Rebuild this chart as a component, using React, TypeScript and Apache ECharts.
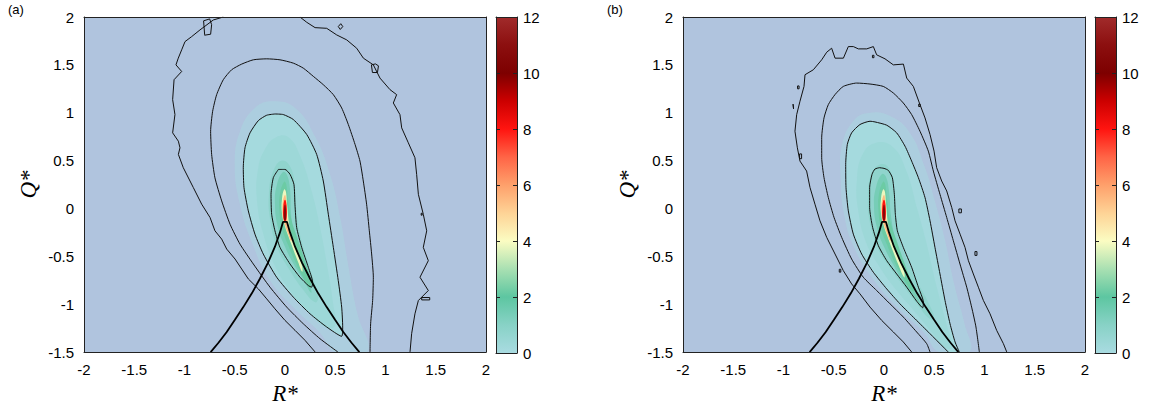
import React, { useEffect, useRef } from "react";
import * as echarts from "echarts";

// ---------- colour scale (0..12) ----------
const CB_MIN = 0;
const CB_MAX = 12;
const CB_COLORS = ["#a9dbe1", "#88d2c6", "#5dc6a1", "#a9e0b2", "#fbfcc2", "#fed396", "#fea06b", "#ff6446", "#ff1410", "#cc0000", "#7d0000", "#8c0f0f", "#a12b2b"];

// ---------- Vieillefosse line (same for both panels) ----------
const VL_R = [-0.74, -0.66, -0.58, -0.5, -0.415, -0.33, -0.25, -0.17, -0.1, -0.05, -0.02, 0.02, 0.05, 0.1, 0.17, 0.25, 0.33, 0.415, 0.5, 0.58, 0.66, 0.74];
const VL_Q = [-1.5, -1.4, -1.29, -1.165, -1.03, -0.886, -0.734, -0.569, -0.399, -0.25, -0.14, -0.14, -0.25, -0.399, -0.569, -0.734, -0.886, -1.03, -1.165, -1.29, -1.4, -1.5];

// ---------- panel (a) contours ----------
const A_C1_R = [-0.066, -0.116, -0.139, -0.133, -0.1, -0.05, 0.05, 0.149, 0.232, 0.265, 0.275, 0.232, 0.166, 0.116, 0.099, 0.089, 0.05, 0.0, -0.066];
const A_C1_Q = [0.408, 0.322, 0.148, -0.06, -0.233, -0.406, -0.58, -0.718, -0.805, -0.822, -0.77, -0.614, -0.406, -0.198, 0.045, 0.252, 0.357, 0.408, 0.408];
const A_C2_R = [-0.1, -0.182, -0.265, -0.348, -0.398, -0.415, -0.408, -0.365, -0.299, -0.216, -0.083, 0.083, 0.249, 0.415, 0.564, 0.574, 0.564, 0.53, 0.481, 0.431, 0.381, 0.315, 0.216, 0.083, -0.017, -0.1];
const A_C2_Q = [0.987, 0.974, 0.918, 0.79, 0.634, 0.426, 0.218, -0.025, -0.268, -0.476, -0.718, -0.926, -1.1, -1.238, -1.335, -1.238, -1.03, -0.753, -0.406, -0.06, 0.287, 0.565, 0.773, 0.929, 0.981, 0.987];
const A_C3_R = [0.527, 0.348, 0.182, 0.017, -0.149, -0.315, -0.448, -0.547, -0.63, -0.697, -0.73, -0.74, -0.72, -0.68, -0.614, -0.531, -0.431, -0.315, -0.182, -0.05, 0.083, 0.182, 0.282, 0.381, 0.481, 0.564, 0.63, 0.697, 0.746, 0.779, 0.812, 0.839, 0.862, 0.879, 0.872, 0.852, 0.846];
const A_C3_Q = [-1.5, -1.36, -1.204, -1.03, -0.822, -0.58, -0.372, -0.164, 0.079, 0.32, 0.565, 0.807, 1.015, 1.189, 1.345, 1.449, 1.508, 1.553, 1.563, 1.553, 1.518, 1.466, 1.38, 1.293, 1.189, 1.05, 0.877, 0.669, 0.495, 0.287, 0.045, -0.233, -0.475, -0.718, -0.961, -1.204, -1.5];
const A_C4L_R = [-0.614, -0.713, -0.846, -0.929, -0.995, -1.028, -1.062, -1.085, -1.028, -1.104, -1.118, -1.095, -1.118, -1.061, -1.045, -1.061, -1.012, -0.912, -0.829, -0.746, -0.697, -0.63, -0.58, -0.497, -0.431, -0.365, -0.265, -0.182, -0.1, 0.0, 0.1, 0.199, 0.299];
const A_C4L_Q = [2.0, 1.969, 1.865, 1.795, 1.743, 1.657, 1.57, 1.5, 1.431, 1.345, 1.137, 0.981, 0.79, 0.703, 0.634, 0.565, 0.426, 0.218, 0.045, -0.094, -0.233, -0.32, -0.424, -0.528, -0.632, -0.736, -0.84, -0.944, -1.048, -1.169, -1.273, -1.377, -1.498];
const A_C4R_R = [0.149, 0.216, 0.299, 0.415, 0.514, 0.614, 0.713, 0.78, 0.879, 0.945, 1.045, 1.111, 1.078, 1.144, 1.161, 1.227, 1.293, 1.31, 1.327, 1.376, 1.41, 1.376, 1.426, 1.343, 1.426, 1.327, 1.293, 1.26, 1.244];
const A_C4R_Q = [2.0, 1.945, 1.889, 1.882, 1.813, 1.761, 1.674, 1.57, 1.5, 1.362, 1.241, 1.189, 1.102, 0.98, 0.842, 0.686, 0.53, 0.356, 0.148, -0.06, -0.233, -0.406, -0.545, -0.718, -0.857, -0.961, -1.1, -1.308, -1.498];
const A_ISLANDS = [
  { r: [-0.8, -0.81, -0.75, -0.73, -0.74, -0.8, -0.8], q: [1.82, 1.96, 1.98, 1.92, 1.82, 1.81, 1.82] },
  { r: [0.53, 0.555, 0.575, 0.55, 0.53], q: [1.9, 1.93, 1.9, 1.87, 1.9] },
  { r: [0.86, 0.9, 0.93, 0.92, 0.87, 0.86], q: [1.5, 1.51, 1.49, 1.42, 1.42, 1.5] },
  { r: [1.355, 1.365, 1.365, 1.355, 1.355], q: [-0.05, -0.05, -0.07, -0.07, -0.05] },
  { r: [1.36, 1.44, 1.44, 1.36, 1.36], q: [-0.93, -0.93, -0.955, -0.955, -0.93] },
];

// ---------- panel (b) contours ----------
const B_C1_R = [-0.046, -0.09, -0.119, -0.143, -0.143, -0.113, -0.056, 0.027, 0.126, 0.226, 0.325, 0.385, 0.392, 0.342, 0.275, 0.192, 0.133, 0.113, 0.103, 0.083, 0.043, 0.0, -0.046];
const B_C1_Q = [0.426, 0.412, 0.357, 0.218, 0.01, -0.198, -0.389, -0.545, -0.684, -0.822, -0.968, -1.037, -0.978, -0.822, -0.614, -0.406, -0.233, -0.06, 0.148, 0.322, 0.398, 0.419, 0.426];
const B_C2_R = [0.64, 0.59, 0.458, 0.308, 0.159, 0.027, -0.106, -0.222, -0.305, -0.355, -0.378, -0.381, -0.365, -0.322, -0.239, -0.139, -0.09, 0.027, 0.126, 0.209, 0.275, 0.342, 0.408, 0.458, 0.507, 0.557, 0.607, 0.657, 0.707, 0.75];
const B_C2_Q = [-1.5, -1.447, -1.308, -1.152, -0.996, -0.84, -0.666, -0.476, -0.268, -0.025, 0.218, 0.461, 0.669, 0.79, 0.877, 0.911, 0.904, 0.87, 0.79, 0.651, 0.495, 0.322, 0.114, -0.129, -0.406, -0.684, -0.961, -1.204, -1.394, -1.5];
const B_C3_R = [0.458, 0.425, 0.325, 0.192, 0.06, -0.073, -0.206, -0.322, -0.421, -0.497, -0.554, -0.597, -0.62, -0.62, -0.597, -0.554, -0.488, -0.405, -0.272, -0.139, -0.007, 0.093, 0.192, 0.275, 0.358, 0.441, 0.491, 0.557, 0.624, 0.69, 0.756, 0.823, 0.872, 0.915, 0.949];
const B_C3_Q = [-1.5, -1.412, -1.29, -1.134, -0.996, -0.857, -0.718, -0.528, -0.302, -0.094, 0.114, 0.322, 0.53, 0.738, 0.946, 1.085, 1.189, 1.275, 1.31, 1.3, 1.275, 1.206, 1.102, 0.981, 0.807, 0.599, 0.391, 0.148, -0.094, -0.337, -0.58, -0.822, -1.03, -1.238, -1.5];
const B_C4_R = [0.275, 0.192, 0.093, -0.023, -0.139, -0.239, -0.322, -0.405, -0.487, -0.57, -0.637, -0.687, -0.736, -0.77, -0.836, -0.862, -0.886, -0.869, -0.836, -0.796, -0.786, -0.703, -0.62, -0.57, -0.521, -0.487, -0.404, -0.355, -0.305, -0.255, -0.172, -0.106, -0.073, 0.01, 0.093, 0.193, 0.226, 0.292, 0.352, 0.408, 0.458, 0.498, 0.524, 0.574, 0.624, 0.674, 0.707, 0.757, 0.806, 0.84, 0.889, 0.939, 0.989, 1.055, 1.121, 1.188, 1.221];
const B_C4_Q = [-1.498, -1.394, -1.29, -1.169, -1.03, -0.892, -0.788, -0.649, -0.476, -0.302, -0.129, 0.045, 0.218, 0.391, 0.495, 0.634, 0.807, 0.98, 1.12, 1.275, 1.397, 1.449, 1.553, 1.632, 1.674, 1.57, 1.57, 1.691, 1.691, 1.667, 1.667, 1.691, 1.605, 1.563, 1.5, 1.508, 1.362, 1.275, 1.102, 0.946, 0.773, 0.599, 0.426, 0.287, 0.183, 0.01, -0.129, -0.268, -0.406, -0.545, -0.684, -0.822, -0.961, -1.1, -1.273, -1.412, -1.498];
const B_ISLANDS = [
  { r: [-0.86, -0.845, -0.845, -0.86, -0.86], q: [1.28, 1.28, 1.25, 1.25, 1.28] },
  { r: [-0.115, -0.1, -0.1, -0.115, -0.115], q: [1.6, 1.6, 1.575, 1.575, 1.6] },
  { r: [0.345, 0.36, 0.36, 0.345, 0.345], q: [1.09, 1.09, 1.065, 1.065, 1.09] },
  { r: [-0.905, -0.9, -0.9, -0.905, -0.905], q: [1.09, 1.09, 1.04, 1.04, 1.09] },
  { r: [-0.84, -0.82, -0.82, -0.84, -0.84], q: [0.57, 0.57, 0.52, 0.52, 0.57] },
  { r: [-0.445, -0.43, -0.43, -0.445, -0.445], q: [-0.635, -0.635, -0.665, -0.665, -0.635] },
  { r: [0.745, 0.77, 0.77, 0.745, 0.745], q: [-0.005, -0.005, -0.045, -0.045, -0.005] },
  { r: [0.905, 0.925, 0.925, 0.905, 0.905], q: [-0.45, -0.45, -0.49, -0.49, -0.45] },
];

// ---------- density fill levels (value, outline) ----------
const FILL_A_VALUES = [0, 0.12, 0.35, 0.75, 1.4, 2.2, 3.8, 5.5, 8.0, 10.5];
const FILL_A_R = [
  [-0.12, -0.3, -0.45, -0.5, -0.45, -0.33, -0.15, 0.1, 0.35, 0.5, 0.82, 0.72, 0.63, 0.55, 0.45, 0.3, 0.1],
  A_C2_R,
  [-0.08, -0.2, -0.27, -0.28, -0.22, -0.1, 0.08, 0.25, 0.42, 0.5, 0.48, 0.42, 0.35, 0.26, 0.15, 0.04],
  [-0.03, -0.12, -0.16, -0.15, -0.08, 0.05, 0.18, 0.3, 0.33, 0.27, 0.18, 0.12, 0.1, 0.06],
  [-0.02, -0.08, -0.1, -0.07, 0.0, 0.08, 0.17, 0.26, 0.24, 0.16, 0.09, 0.06, 0.05, 0.02],
  [-0.01, -0.05, -0.055, -0.03, 0.03, 0.1, 0.17, 0.24, 0.26, 0.2, 0.12, 0.06, 0.03, 0.01],
  [-0.008, -0.03, -0.03, -0.005, 0.03, 0.08, 0.13, 0.17, 0.17, 0.1, 0.05, 0.02, 0.008],
  [0.0, -0.022, -0.022, 0.0, 0.03, 0.06, 0.07, 0.035, 0.015, 0.012],
  [0.0, -0.016, -0.016, 0.0, 0.016, 0.016],
  [0.0, -0.009, -0.009, 0.009, 0.009],
];
const FILL_A_Q = [
  [1.12, 1.05, 0.8, 0.45, 0.05, -0.35, -0.75, -1.05, -1.3, -1.5, -1.5, -1.1, -0.6, -0.1, 0.35, 0.75, 1.05],
  A_C2_Q,
  [0.75, 0.62, 0.4, 0.1, -0.25, -0.6, -0.9, -1.1, -1.25, -1.22, -1.0, -0.6, -0.2, 0.2, 0.55, 0.74],
  [0.5, 0.38, 0.15, -0.1, -0.4, -0.65, -0.85, -0.98, -0.92, -0.7, -0.4, -0.1, 0.2, 0.42],
  [0.38, 0.25, 0.05, -0.2, -0.4, -0.57, -0.72, -0.88, -0.76, -0.5, -0.3, -0.05, 0.2, 0.35],
  [0.28, 0.15, -0.02, -0.2, -0.38, -0.55, -0.7, -0.82, -0.78, -0.55, -0.3, -0.1, 0.1, 0.26],
  [0.2, 0.1, -0.05, -0.17, -0.28, -0.42, -0.56, -0.66, -0.6, -0.4, -0.22, 0.05, 0.18],
  [0.14, 0.06, -0.08, -0.17, -0.26, -0.34, -0.32, -0.18, -0.05, 0.08],
  [0.09, 0.03, -0.1, -0.14, -0.1, 0.03],
  [0.04, 0.0, -0.12, -0.12, 0.0],
];
const FILL_B_VALUES = [0, 0.12, 0.35, 0.75, 1.4, 2.2, 3.8, 5.5, 8.0, 10.5];
const FILL_B_R = [
  [-0.14, -0.3, -0.42, -0.43, -0.4, -0.3, -0.1, 0.15, 0.4, 0.55, 0.85, 0.8, 0.7, 0.6, 0.5, 0.4, 0.25, 0.05],
  B_C2_R,
  [-0.1, -0.22, -0.27, -0.26, -0.18, -0.05, 0.12, 0.3, 0.48, 0.6, 0.68, 0.62, 0.52, 0.42, 0.33, 0.22, 0.08],
  [-0.04, -0.13, -0.16, -0.14, -0.06, 0.06, 0.2, 0.33, 0.45, 0.5, 0.44, 0.3, 0.18, 0.12, 0.1, 0.05],
  [-0.02, -0.08, -0.1, -0.07, 0.0, 0.1, 0.2, 0.3, 0.37, 0.31, 0.2, 0.12, 0.07, 0.05, 0.02],
  [-0.01, -0.05, -0.055, -0.03, 0.03, 0.1, 0.18, 0.26, 0.3, 0.22, 0.12, 0.06, 0.03, 0.01],
  [-0.008, -0.03, -0.03, -0.005, 0.03, 0.08, 0.14, 0.2, 0.2, 0.11, 0.05, 0.02, 0.008],
  [0.0, -0.022, -0.022, 0.0, 0.03, 0.06, 0.07, 0.035, 0.015, 0.012],
  [0.0, -0.016, -0.016, 0.0, 0.016, 0.016],
  [0.0, -0.009, -0.009, 0.009, 0.009],
];
const FILL_B_Q = [
  [1.0, 0.92, 0.65, 0.3, -0.05, -0.4, -0.75, -1.05, -1.3, -1.5, -1.5, -1.2, -0.8, -0.3, 0.1, 0.45, 0.8, 0.97],
  B_C2_Q,
  [0.68, 0.55, 0.3, 0.0, -0.35, -0.6, -0.85, -1.07, -1.3, -1.45, -1.45, -1.2, -0.8, -0.35, 0.0, 0.4, 0.65],
  [0.46, 0.35, 0.1, -0.15, -0.42, -0.62, -0.82, -1.0, -1.15, -1.15, -0.98, -0.7, -0.4, -0.1, 0.2, 0.42],
  [0.36, 0.22, 0.03, -0.2, -0.4, -0.6, -0.78, -0.92, -1.02, -0.87, -0.62, -0.35, -0.08, 0.18, 0.33],
  [0.28, 0.15, -0.02, -0.2, -0.38, -0.55, -0.7, -0.84, -0.86, -0.62, -0.32, -0.12, 0.1, 0.26],
  [0.2, 0.1, -0.05, -0.17, -0.28, -0.42, -0.58, -0.72, -0.66, -0.42, -0.22, 0.05, 0.18],
  [0.14, 0.06, -0.08, -0.17, -0.26, -0.34, -0.32, -0.18, -0.05, 0.08],
  [0.09, 0.03, -0.1, -0.14, -0.1, 0.03],
  [0.04, 0.0, -0.12, -0.12, 0.0],
];

const PANEL_LABELS = ["(a)", "(b)"];
const X_NAME = "R*";
const Y_NAME = "Q*";

// ---------- helpers ----------
const pairs = (r: number[], q: number[]) => r.map((x, i) => [x, q[i]]);
const SANS = "'Liberation Sans', Arial, Helvetica, sans-serif";
const SERIF = "'Liberation Serif', 'Times New Roman', serif";
const INK = "#000";

function buildOption() {
  const panels = [
    { left: 84, cbLeft: 496, fillV: FILL_A_VALUES, fillR: FILL_A_R, fillQ: FILL_A_Q,
      smoothC: [pairs(A_C1_R, A_C1_Q), pairs(A_C2_R, A_C2_Q), pairs(A_C3_R, A_C3_Q)],
      rough: [pairs(A_C4L_R, A_C4L_Q), pairs(A_C4R_R, A_C4R_Q), ...A_ISLANDS.map((d) => pairs(d.r, d.q))] },
    { left: 683, cbLeft: 1095, fillV: FILL_B_VALUES, fillR: FILL_B_R, fillQ: FILL_B_Q,
      smoothC: [pairs(B_C1_R, B_C1_Q), pairs(B_C2_R, B_C2_Q), pairs(B_C3_R, B_C3_Q)],
      rough: [pairs(B_C4_R, B_C4_Q), ...B_ISLANDS.map((d) => pairs(d.r, d.q))] },
  ];
  const top = 17, height = 336, width = 402, cbWidth = 21;
  const grid: any[] = [], xAxis: any[] = [], yAxis: any[] = [], series: any[] = [];
  const fillIdx: number[] = [];
  const border = { show: true, onZero: false, lineStyle: { color: "#222", width: 1 } };
  const label = { fontSize: 15, color: INK, fontFamily: SANS, margin: 10 };
  const stops = CB_COLORS.map((c, i) => ({ offset: i / (CB_COLORS.length - 1), color: c }));

  panels.forEach((p, k) => {
    const g = k * 2;
    grid.push({ left: p.left, top, width, height, show: true, backgroundColor: "#b0c4de", borderWidth: 0 });
    grid.push({ left: p.cbLeft, top, width: cbWidth, height, show: false });
    const ax = xAxis.length, ay = yAxis.length;
    xAxis.push(
      { gridIndex: g, type: "value", min: -2, max: 2, interval: 0.5, position: "bottom", z: 10,
        axisLine: border, axisTick: { show: false }, splitLine: { show: false }, axisLabel: label,
        name: X_NAME, nameLocation: "middle", nameGap: 27,
        nameTextStyle: { fontFamily: SERIF, fontStyle: "italic", fontSize: 23, color: INK } },
      { gridIndex: g, type: "value", min: -2, max: 2, position: "top", z: 10, axisLine: border,
        axisTick: { show: false }, splitLine: { show: false }, axisLabel: { show: false } },
      { gridIndex: g + 1, type: "value", min: 0, max: 1, position: "bottom", z: 10, axisLine: border,
        axisTick: { show: false }, splitLine: { show: false }, axisLabel: { show: false } },
      { gridIndex: g + 1, type: "value", min: 0, max: 1, position: "top", z: 10, axisLine: border,
        axisTick: { show: false }, splitLine: { show: false }, axisLabel: { show: false } },
    );
    yAxis.push(
      { gridIndex: g, type: "value", min: -1.5, max: 2, interval: 0.5, position: "left", z: 10,
        axisLine: border, axisTick: { show: false }, splitLine: { show: false }, axisLabel: label,
        name: Y_NAME, nameLocation: "middle", nameGap: 44,
        nameTextStyle: { fontFamily: SERIF, fontStyle: "italic", fontSize: 23, color: INK } },
      { gridIndex: g, type: "value", min: -1.5, max: 2, position: "right", z: 10, axisLine: border,
        axisTick: { show: false }, splitLine: { show: false }, axisLabel: { show: false } },
      { gridIndex: g + 1, type: "value", min: CB_MIN, max: CB_MAX, interval: 2, position: "left", z: 10,
        axisLine: border, axisTick: { show: true, inside: true, length: 4, lineStyle: { color: "#222" } },
        splitLine: { show: false }, axisLabel: { show: false } },
      { gridIndex: g + 1, type: "value", min: CB_MIN, max: CB_MAX, interval: 2, position: "right", z: 10,
        axisLine: border, axisTick: { show: true, inside: true, length: 4, lineStyle: { color: "#222" } },
        splitLine: { show: false }, axisLabel: { ...label, margin: 6 } },
    );

    // density fill
    fillIdx.push(series.length);
    series.push({
      type: "custom", xAxisIndex: ax, yAxisIndex: ay, clip: true, silent: true, z: 1,
      data: p.fillV.map((v, i) => [v, i]),
      renderItem: (params: any, api: any) => {
        const i = api.value(1);
        const pts = p.fillR[i].map((r: number, j: number) => api.coord([r, p.fillQ[i][j]]));
        return {
          type: "polygon",
          shape: { points: pts, smooth: i === 1 ? 0.2 : 0.45 },
          style: { fill: api.visual("color"), opacity: i === 0 ? 0.45 : 1 },
        };
      },
    });
    // contour lines
    p.smoothC.forEach((d) => series.push({
      type: "line", xAxisIndex: ax, yAxisIndex: ay, data: d, symbol: "none", smooth: 0.2, silent: true, z: 3,
      lineStyle: { color: "#111", width: 1 },
    }));
    p.rough.forEach((d) => series.push({
      type: "line", xAxisIndex: ax, yAxisIndex: ay, data: d, symbol: "none", smooth: false, silent: true, z: 3,
      lineStyle: { color: "#111", width: 1 },
    }));
    // Vieillefosse line
    series.push({
      type: "line", xAxisIndex: ax, yAxisIndex: ay, data: pairs(VL_R, VL_Q), symbol: "none", silent: true, z: 4,
      lineStyle: { color: "#000", width: 1.8 },
    });
    // colour bar
    series.push({
      type: "custom", xAxisIndex: ax + 2, yAxisIndex: ay + 3, silent: true, z: 1,
      data: [[0, CB_MIN]],
      renderItem: (params: any, api: any) => {
        const a = api.coord([0, CB_MAX]);
        const b = api.coord([1, CB_MIN]);
        return {
          type: "rect",
          shape: { x: a[0], y: a[1], width: b[0] - a[0], height: b[1] - a[1] },
          style: { fill: new echarts.graphic.LinearGradient(0, 1, 0, 0, stops) },
        };
      },
    });
  });

  return {
    animation: false,
    backgroundColor: "#fff",
    grid, xAxis, yAxis, series,
    visualMap: [{ type: "continuous", show: false, min: CB_MIN, max: CB_MAX, dimension: 0,
      seriesIndex: fillIdx, inRange: { color: CB_COLORS } }],
    graphic: PANEL_LABELS.map((t, k) => ({
      type: "text", left: 8 + k * 599, top: 3, silent: true,
      style: { text: t, font: `13px ${SANS}`, fill: INK },
    })),
  };
}

export default function App() {
  const ref = useRef<HTMLDivElement>(null);
  useEffect(() => {
    const chart = echarts.init(ref.current!, null, { renderer: "svg" });
    chart.setOption(buildOption() as any);
    return () => chart.dispose();
  }, []);
  return <div ref={ref} style={{ position: "fixed", left: 0, top: 0, width: 1156, height: 410 }} />;
}
